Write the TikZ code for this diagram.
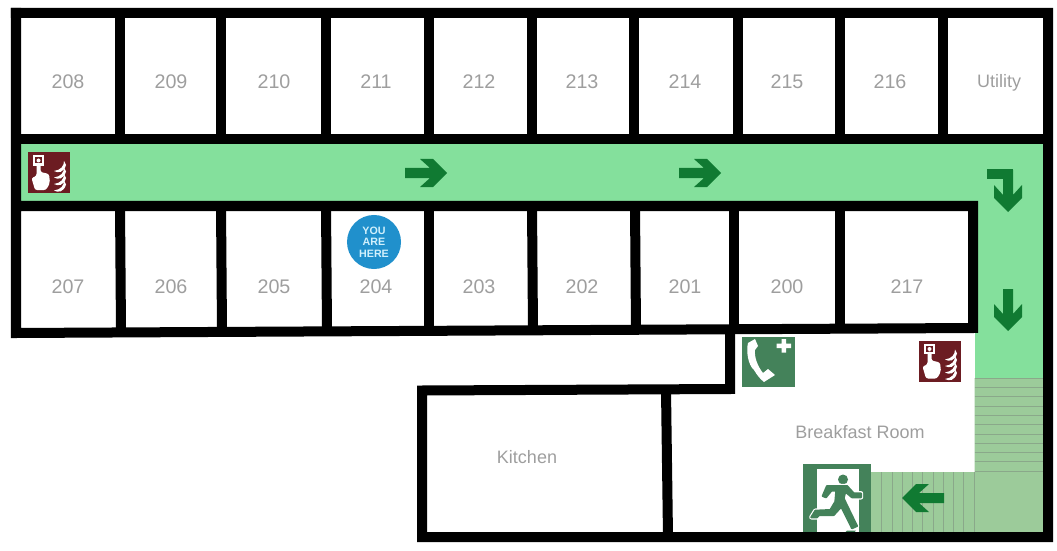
\documentclass[tikz,border=0pt]{standalone}
\usepackage{fontspec}
\setmainfont{Liberation Sans}
\usepackage{xcolor}
\usetikzlibrary{positioning}
\definecolor{corridor}{HTML}{84E09C}
\definecolor{stair}{HTML}{9CCB9A}
\definecolor{stairline}{HTML}{8AA88A}
\definecolor{flow}{HTML}{107A32}
\definecolor{signgreen}{HTML}{44825A}
\definecolor{signred}{HTML}{6C1C22}
\definecolor{youblue}{HTML}{2090CC}
\newcommand{\manpath}{(24,22)--(19.7,32)--(23,33.3)--(28.3,26.7)--(33.3,26.7)--(32.3,37.7)--(27.3,46)--(12.3,46.7)--(8.3,53.3)--(14,53.3)--(16.3,51)--(30.7,51)--(38.3,42.7)--(49,64.3)--(54,62)--(43,39.3)--(40.7,34.3)--(42.3,27.7)--(49,33.3)--(58,33.3)--(58,29.3)--(50.7,29.3)--(44,22)--cycle}
\tikzset{
  flowarrow/.pic={\fill[flow] (0,-5)--(25,-5)--(15,-14)--(28,-14)--(42,0)--(28,14)--(15,14)--(25,5)--(0,5)--cycle;},
  alarmsign/.pic={
    \fill[signred] (0,0) rectangle (42,41);
    \draw[white,line width=0.5mm] (6,4.5) rectangle (15,12.5);
    \fill[white] (10.5,8.5) circle (2);
    \fill[white,rounded corners=1.5pt] (8.5,11)--(12.5,11)--(12.5,20)--(21,22)--(22,31)--(18,38)--(7,38)--(3.5,26)--(8.5,24)--cycle;
    \foreach \fy in {0,6.5,13,19.5}
      \fill[white] (36,{9+\fy}) .. controls (36,{14+\fy}) and (33,{18+\fy}) .. (26,{19+\fy}) .. controls (30,{21.5+\fy}) and (36,{20.5+\fy}) .. (38,{13+\fy}) -- cycle;
  },
  phonesign/.pic={
    \fill[signgreen] (0,0) rectangle (53,50);
    \fill[white] (13,2)--(6,6) .. controls (4,14) and (6,28) .. (12,33) .. controls (15,38) and (18,42) .. (22,45)--(33,38)--(26,32)--(21,36) .. controls (16,30) and (12,20) .. (13,13)--(16,9)--cycle;
    \fill[white] (39.5,2)--(44,2)--(44,6.5)--(49,6.5)--(49,11)--(44,11)--(44,15.5)--(39.5,15.5)--(39.5,11)--(34.5,11)--(34.5,6.5)--(39.5,6.5)--cycle;
  },
  exitsign/.pic={
    \fill[signgreen] (0,0) rectangle (68,70);
    \fill[white] (14,5) rectangle (56,70);
    \fill[signgreen] (40,15.5) circle (5);
    \draw[white,line width=1.1mm,line join=round] \manpath;
    \filldraw[signgreen,line width=0.5mm,line join=round] \manpath;
    \fill[signgreen] (44,66.5)--(53,66.5)--(50,70)--(41,70)--cycle;
  },
  wall/.style={line width=0.25cm, line join=miter, line cap=rect},
  roomno/.style={font=\fontsize{14}{16}\selectfont, text=black!38},
  roomname/.style={font=\fontsize{12.8}{15}\selectfont, text=black!38}
}
\begin{document}
\begin{tikzpicture}[x=0.025cm,y=-0.025cm]
\useasboundingbox (0,0) rectangle (1057,551);
% Escape route
\fill[corridor] (16,139) rectangle (1048,206);
\fill[corridor] (974.5,139) rectangle (1048,378);
\fill[stair] (974.5,378)--(1048,378)--(1048,537)--(871,537)--(871,472)--(974.5,472)--cycle;
\foreach \i in {0,...,10} \draw[stairline] (974.5,378+9.3*\i)--(1044,378+9.3*\i);
\foreach \i in {0,...,9} \draw[stairline] (881.7+10.25*\i,472)--(881.7+10.25*\i,532);
% Signs
\pic at (28,152) {alarmsign};
\pic at (919,340.5) {alarmsign};
\pic at (742,337) {phonesign};
\pic at (803,464) {exitsign};
% Arrows
\pic at (405,173) {flowarrow};
\pic at (679,173) {flowarrow};
\pic[rotate=-90] at (1008,289) {flowarrow};
\pic[rotate=-90] at (1008,170) {flowarrow};
\fill[flow] (987,169) rectangle (1013,179);
\pic[rotate=180] at (944,498) {flowarrow};
% Walls
\draw[wall] (16,13)--(1048,13)--(1048,537)--(422,537)--(422,390.5)--(730,389)--(730,331);
\draw[wall] (16,13)--(16,333)--(973,328)--(973,206)--(16,206);
\draw[wall] (16,139)--(1048,139);
\foreach \x in {120,221,326,429,532,634,738,840,943}
  \draw[line width=0.25cm] (\x,13)--(\x,139);
\foreach \x/\xb in {120/121,221/222,326/327,429/429,532/533,635/636,734/734,840/840}
  \draw[line width=0.25cm] (\x,206)--(\xb,331);
\draw[line width=0.25cm] (666,390)--(668,537);
% Room labels
\foreach \rm/\x in {208/68,209/171,210/274,211/376,212/479,213/582,214/685,215/787,216/890}
  \node[roomno] (r\rm) at (\x,81.5) {\rm};
\foreach \rm/\x in {207/68,206/171,205/274,204/376,203/479,202/582,201/685,200/787,217/907}
  \node[roomno] (r\rm) at (\x,286.5) {\rm};
\node[roomname] (utility) at (999,83) {Utility};
\node[roomname] (kitchen) at (527,457.5) {Kitchen};
\node[roomname] (breakfast) at (860,432.5) {Breakfast Room};
% You are here
\node[circle, fill=youblue, minimum size=1.35cm, inner sep=0pt, align=center, text=cyan!18,
  font=\fontsize{7.6}{8.2}\selectfont\bfseries] (here) at (374,242) {YOU\\ARE\\HERE};
\end{tikzpicture}
\end{document}
